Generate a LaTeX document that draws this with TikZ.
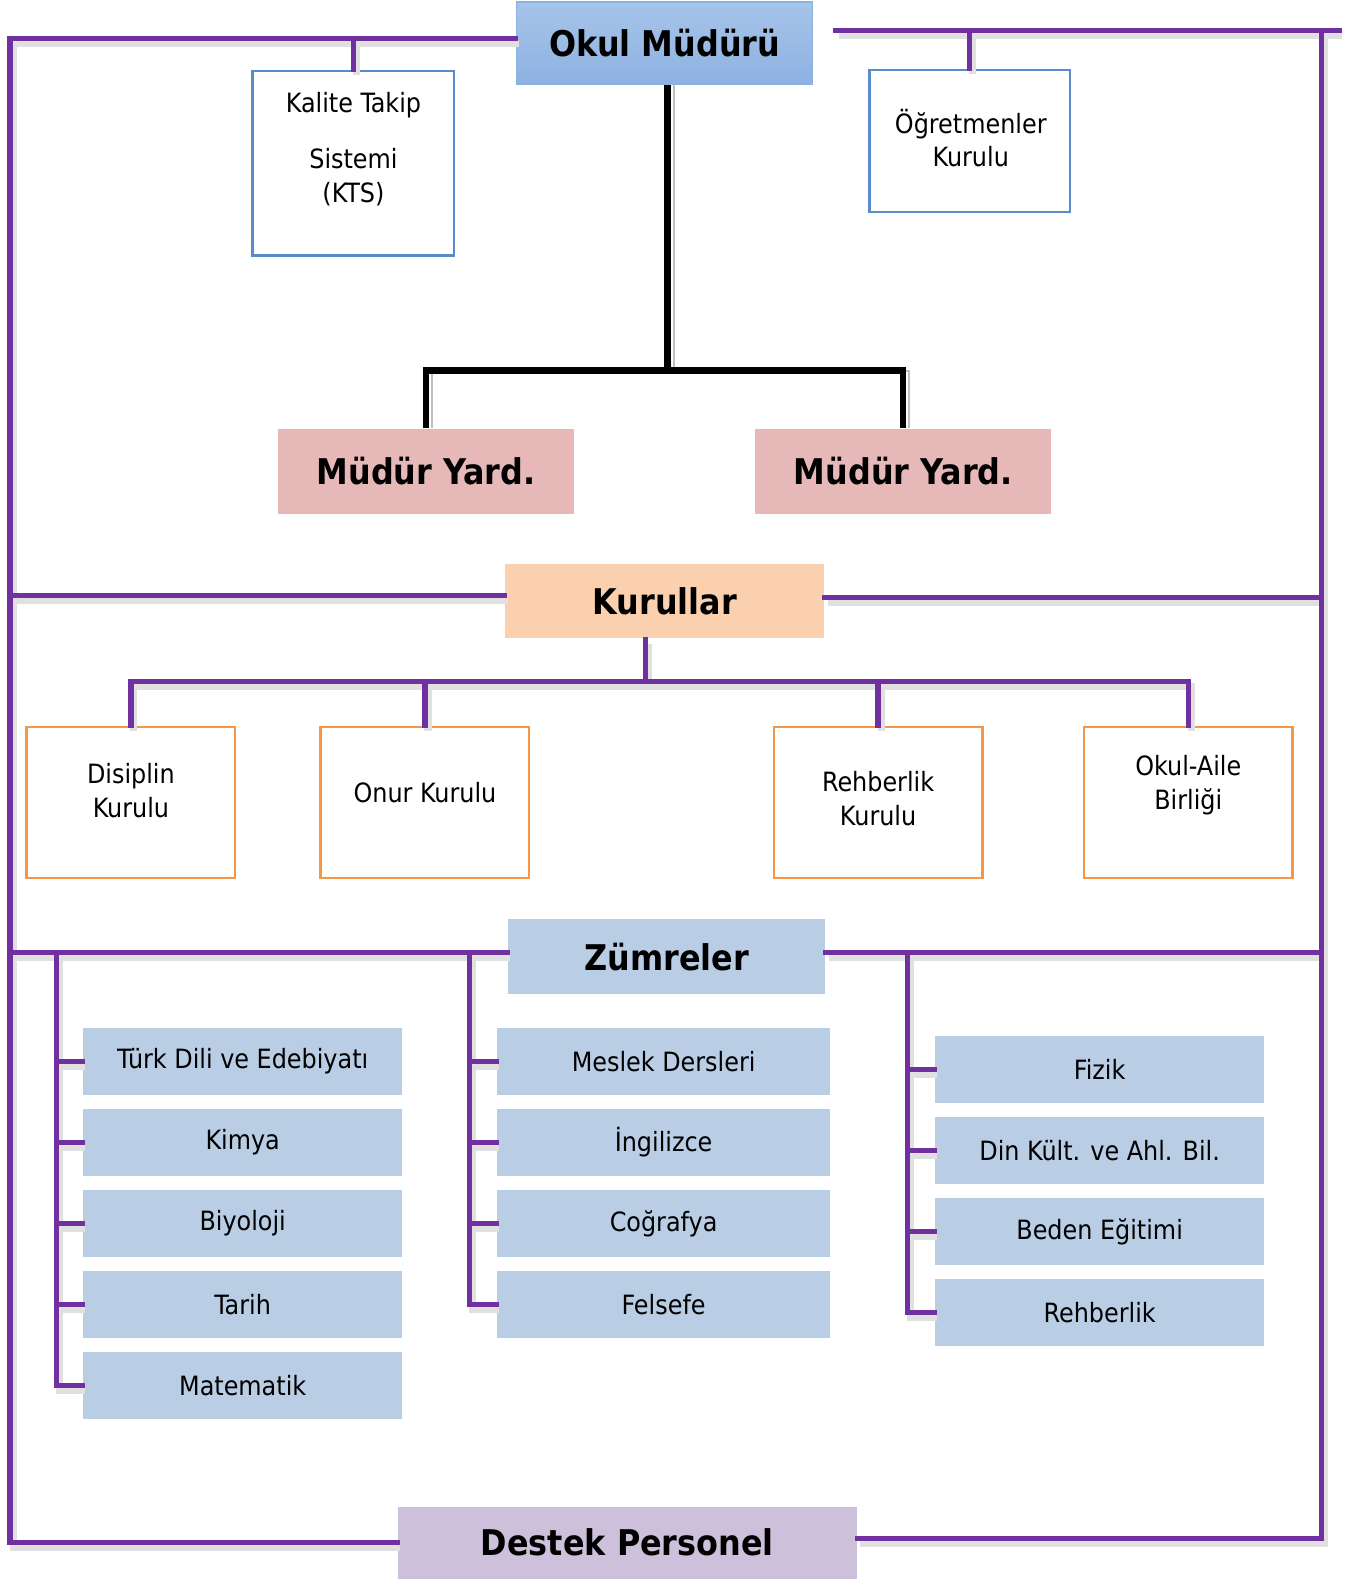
\documentclass[tikz,border=0pt]{standalone}
\usepackage{fontspec}
\setmainfont{DejaVu Sans Condensed}
\usetikzlibrary{positioning}

\definecolor{mor}{HTML}{7030A0}
\definecolor{koyumavi}{HTML}{5B8BC9}
\definecolor{turuncu}{HTML}{F79646}
\definecolor{acikmavi}{HTML}{B9CDE5}
\definecolor{ustmavi}{HTML}{A6C4E9}
\definecolor{altmavi}{HTML}{8DB2E1}
\definecolor{pembe}{HTML}{E6B9B8}
\definecolor{seftali}{HTML}{FBD0AE}
\definecolor{lila}{HTML}{CCC0DA}

\newcommand\buyukyazi{\bfseries\fontsize{10}{12}\selectfont}
\newcommand\kucukyazi{\fontsize{7.5}{9.5}\selectfont}

\begin{document}
\begin{tikzpicture}[x=0.01cm, y=-0.01cm, node distance={0.12cm},
  hat/.style = {draw=mor, line width=1.5pt, line cap=rect,
    preaction={draw=black!12, line width=2pt, transform canvas={xshift=0.03cm, yshift=-0.05cm}}},
  siyah/.style = {draw=black, line width=1.8pt,
    preaction={draw=black!25, line width=0.6pt, transform canvas={xshift=0.06cm}}},
  ana/.style = {font=\buyukyazi, inner sep=0pt},
  ustkutu/.style = {ana, top color=ustmavi, bottom color=altmavi, draw=altmavi, minimum width=2.94cm, minimum height=0.82cm},
  yardkutu/.style = {ana, fill=pembe, minimum width=2.94cm, minimum height=0.84cm},
  kurulkutu/.style = {ana, fill=seftali, minimum width=3.16cm, minimum height=0.74cm},
  zumrekutu/.style = {ana, fill=acikmavi, minimum width=3.15cm, minimum height=0.75cm},
  destekkutu/.style = {ana, fill=lila, minimum width=4.55cm, minimum height=0.71cm},
  mavikutu/.style = {draw=koyumavi, line width=0.7pt, fill=white},
  turuncukutu/.style = {draw=turuncu, line width=0.7pt, fill=white, minimum width=2.07cm, minimum height=1.5cm},
  yazi/.style = {font=\kucukyazi, align=center},
  ders/.style = {fill=acikmavi, font=\kucukyazi, minimum height=0.67cm}]

\useasboundingbox (0,0) rectangle (1335,1568);

% ust kisim
\node[ustkutu] (mudur) at (660,43) {Okul Müdürü};
\node[mavikutu, minimum width=2cm, minimum height=1.83cm] (kts) at (351,162) {};
\node[yazi] (ktsyazi) at (351,148) {Kalite Takip\\[0.23cm]Sistemi\\(KTS)};
\node[mavikutu, minimum width=1.99cm, minimum height=1.41cm] (ogrt) at (963,140) {};
\node[yazi] (ogrtyazi) at (964,137) {Öğretmenler\\Kurulu};
\node[yardkutu] (yard1) at (423,468) {Müdür Yard.};
\node[yardkutu] (yard2) at (897,468) {Müdür Yard.};

% kurullar
\node[kurulkutu] (kurul) at (660,597) {Kurullar};
\node[turuncukutu] (disiplin) at (130,797) {};
\node[turuncukutu] (onur) at (422,797) {};
\node[turuncukutu] (rehber) at (872,797) {};
\node[turuncukutu] (aile) at (1180,797) {};
\node[yazi] (disiplinyazi) at (130,785) {Disiplin\\Kurulu};
\node[yazi] (onuryazi) at (422,787) {Onur Kurulu};
\node[yazi] (rehberyazi) at (872,793) {Rehberlik\\Kurulu};
\node[yazi] (aileyazi) at (1180,780) {Okul-Aile\\Birliği};

% zumreler
\node[zumrekutu] (zumre) at (662,950) {Zümreler};
\node[ders, minimum width=3.17cm] (turk) at (241,1054) {Türk Dili ve Edebiyatı};
\node[ders, minimum width=3.17cm, below=of turk] (kimya) {Kimya};
\node[ders, minimum width=3.17cm, below=of kimya] (biyoloji) {Biyoloji};
\node[ders, minimum width=3.17cm, below=of biyoloji] (tarih) {Tarih};
\node[ders, minimum width=3.17cm, below=of tarih] (matematik) {Matematik};

\node[ders, minimum width=3.31cm] (meslek) at (659,1054) {Meslek Dersleri};
\node[ders, minimum width=3.31cm, below=of meslek] (ingilizce) {İngilizce};
\node[ders, minimum width=3.31cm, below=of ingilizce] (cografya) {Coğrafya};
\node[ders, minimum width=3.31cm, below=of cografya] (felsefe) {Felsefe};

\node[ders, minimum width=3.27cm] (fizik) at (1092,1062) {Fizik};
\node[ders, minimum width=3.27cm, below=of fizik] (din) {Din Kült. ve Ahl. Bil.};
\node[ders, minimum width=3.27cm, below=of din] (beden) {Beden Eğitimi};
\node[ders, minimum width=3.27cm, below=of beden] (rehberlik) {Rehberlik};

\node[destekkutu] (destek) at (623,1532) {Destek Personel};

% cerceve
\coordinate (solust) at (10,38);
\coordinate (solalt) at (10,1532);
\coordinate (sagbas) at (830,30);
\coordinate (saguc) at (1330,30);
\coordinate (sagust) at (1312,30);
\coordinate (sagalt) at (1312,1528);
\coordinate (kurulsol) at (10,591);
\coordinate (kurulsag) at (1312,593);
\coordinate (zumresol) at (10,946);
\coordinate (zumresag) at (1312,946);

\draw[hat] (solust -| mudur.west) -- (solust) -- (solalt) -- (solalt -| destek.west)
  (sagbas) -- (saguc)
  (sagust) -- (sagalt) -- (sagalt -| destek.east)
  (solust -| kts) -- (kts.north)
  (sagbas -| ogrt) -- (ogrt.north)
  (kurulsol) -- (kurulsol -| kurul.west)
  (kurulsag -| kurul.east) -- (kurulsag)
  (zumresol) -- (zumresol -| zumre.west)
  (zumresag -| zumre.east) -- (zumresag);

% mudur yardimcilari
\coordinate (catal) at (663,368);
\draw[siyah] (mudur.south -| catal) -- (catal);
\draw[siyah] (yard1.north) |- (catal) -| (yard2.north);

% kurul baglantilari
\coordinate (kcatal) at (641,677);
\draw[hat] (kurul.south -| kcatal) -- (kcatal)
  \foreach \k in {disiplin,onur,rehber,aile} {(kcatal) -| (\k.north)};

% zumre baglantilari
\coordinate (zsol) at (56,946);
\coordinate (zorta) at (466,946);
\coordinate (zsag) at (901,946);
\draw[hat] \foreach \d in {turk,kimya,biyoloji,tarih,matematik} {(zsol) |- (\d.west)};
\draw[hat] \foreach \d in {meslek,ingilizce,cografya,felsefe} {(zorta) |- (\d.west)};
\draw[hat] \foreach \d in {fizik,din,beden,rehberlik} {(zsag) |- (\d.west)};

\end{tikzpicture}
\end{document}
